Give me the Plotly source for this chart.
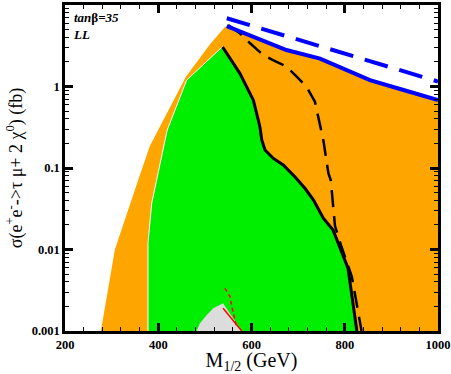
import plotly.graph_objects as go

# left edge of the orange band, bottom to apex
orange_left_x = [277, 307, 357, 382, 459, 511, 543]
orange_left_y = [0.001, 0.01, 0.0713, 0.186, 1.31, 3.3, 5.37]

# blue solid line (also the upper edge of the orange band)
blue_solid_x = [547, 675, 747, 854, 926, 1000]
blue_solid_y = [5.5, 2.8, 2.2, 1.2, 0.906, 0.68]

# blue dashed line
blue_dash_x = [547, 768, 1000]
blue_dash_y = [6.87, 2.86, 1.15]

# left edge of the green region, bottom to apex
green_left_x = [378, 378, 386, 397, 419, 436, 461, 537]
green_left_y = [0.001, 0.012, 0.037, 0.0713, 0.29, 0.515, 1.2, 3.05]

# black solid line (right edge of green), apex to bottom
black_solid_x = [538, 560, 575, 604, 618, 622, 629, 647, 668, 693, 715, 733,
                 754, 775, 807, 826]
black_solid_y = [3.05, 2.0, 1.45, 0.68, 0.321, 0.221, 0.166, 0.131, 0.109,
                 0.078, 0.056, 0.0405, 0.0242, 0.0173, 0.0059, 0.001]

# black dashed line
black_dash_x = [550, 575, 597, 625, 646, 675, 697, 718, 736, 754, 765, 770,
                779, 793, 815, 836]
black_dash_y = [5.7, 4.5, 3.39, 2.44, 2.11, 1.75, 1.32, 0.99, 0.65, 0.221,
                0.086, 0.0713, 0.0195, 0.0108, 0.0047, 0.001]

# grey patch at the bottom
gray_x = [482, 489, 504, 518, 539, 579]
gray_y = [0.001, 0.00124, 0.00157, 0.0019, 0.00219, 0.001]

# red lines
red_solid_x = [539, 579]
red_solid_y = [0.0019, 0.001]
red_dash_x = [543, 554, 557, 561, 568]
red_dash_y = [0.00334, 0.00264, 0.00208, 0.00165, 0.00113]

x_ticks = [200, 400, 600, 800, 1000]
y_ticks = [0.001, 0.01, 0.1, 1, 10]
y_ticktext = ["0.001", "0.01", "0.1", "1", "10"]

SERIF = "Liberation Serif, Times New Roman, serif"

fig = go.Figure()

fig.add_trace(go.Scatter(
    x=orange_left_x + blue_solid_x + [1000],
    y=orange_left_y + blue_solid_y + [0.001],
    fill="toself", fillcolor="#FFA500",
    line=dict(width=0), mode="lines", hoverinfo="skip"
))

fig.add_trace(go.Scatter(
    x=green_left_x + black_solid_x,
    y=green_left_y + black_solid_y,
    fill="toself", fillcolor="#00EE00",
    line=dict(color="white", width=1), mode="lines", hoverinfo="skip"
))

fig.add_trace(go.Scatter(
    x=gray_x, y=gray_y,
    fill="toself", fillcolor="#DCDCDC",
    line=dict(width=0), mode="lines", hoverinfo="skip"
))

fig.add_trace(go.Scatter(
    x=black_solid_x, y=black_solid_y, mode="lines",
    line=dict(color="black", width=3)
))

fig.add_trace(go.Scatter(
    x=black_dash_x, y=black_dash_y, mode="lines",
    line=dict(color="black", width=2.5, dash="17px,9px")
))

fig.add_trace(go.Scatter(
    x=blue_solid_x, y=blue_solid_y, mode="lines",
    line=dict(color="#0000FF", width=4)
))

fig.add_trace(go.Scatter(
    x=blue_dash_x, y=blue_dash_y, mode="lines",
    line=dict(color="#0000FF", width=4, dash="24px,12px")
))

fig.add_trace(go.Scatter(
    x=red_solid_x, y=red_solid_y, mode="lines",
    line=dict(color="#FF0000", width=1.5)
))

fig.add_trace(go.Scatter(
    x=red_dash_x, y=red_dash_y, mode="lines",
    line=dict(color="#FF0000", width=1.5, dash="4px,3px")
))

fig.add_annotation(
    x=0.015, y=0.99, xref="paper", yref="paper",
    xanchor="left", yanchor="top", showarrow=False, align="left",
    text="<b><i>tan</i>β<i>=35</i></b><br><b><i>LL</i></b>",
    font=dict(family=SERIF, size=13, color="black")
)

fig.update_xaxes(
    range=[200, 1000], tickvals=x_ticks, automargin=False,
    ticks="inside", ticklen=8, tickwidth=2.5, tickcolor="black",
    minor=dict(ticks="inside", dtick=40, ticklen=4, tickwidth=1, tickcolor="black"),
    showline=True, linewidth=2.5, linecolor="black", mirror="allticks",
    showgrid=False, zeroline=False,
    tickfont=dict(family=SERIF, size=12.5, color="black", weight="bold"),
    title=dict(text="M<sub>1/2</sub> (GeV)", standoff=4,
               font=dict(family=SERIF, size=20, color="black"))
)

fig.update_yaxes(
    type="log", range=[-3, 1], tickvals=y_ticks, ticktext=y_ticktext,
    automargin=False,
    ticks="inside", ticklen=8, tickwidth=2.5, tickcolor="black",
    minor=dict(ticks="inside", dtick="D1", ticklen=4, tickwidth=1, tickcolor="black"),
    showline=True, linewidth=2.5, linecolor="black", mirror="allticks",
    showgrid=False, zeroline=False,
    tickfont=dict(family=SERIF, size=12.5, color="black", weight="bold"),
    title=dict(text="σ(e<sup>+</sup>e<sup>-</sup>->τ μ+ 2 χ<sup>0</sup>) (fb)",
               standoff=5, font=dict(family=SERIF, size=18, color="black"))
)

fig.update_layout(
    width=451, height=374,
    margin=dict(l=65, r=13, t=5, b=43),
    plot_bgcolor="white", paper_bgcolor="white",
    showlegend=False
)

# page body has a default 8px margin; drop it so the figure sits at 0,0
fig.write_html("out.html", config={"displayModeBar": False},
               post_script="document.body.style.margin='0';")
